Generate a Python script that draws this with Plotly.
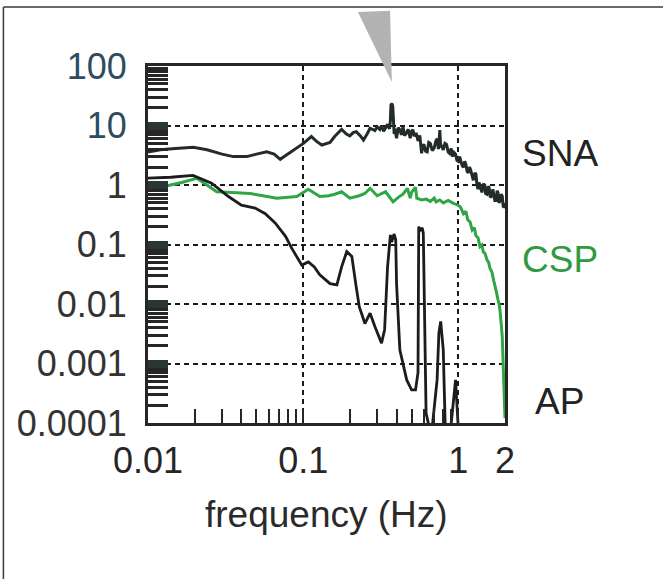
import math
import plotly.graph_objects as go

# ---------------- data ----------------
sna_f = [0.010, 0.012, 0.015, 0.0196, 0.024, 0.030, 0.0355, 0.0433, 0.050, 0.0583,
         0.065, 0.0712, 0.078, 0.0866, 0.1004, 0.113, 0.122, 0.132, 0.149, 0.16,
         0.177, 0.19, 0.20, 0.21, 0.22, 0.235, 0.245, 0.26, 0.27, 0.29,
         0.30, 0.312, 0.32, 0.33, 0.34, 0.35, 0.36, 0.365, 0.368, 0.373, 0.378, 0.382,
         0.386, 0.39, 0.395, 0.40, 0.41, 0.42, 0.43, 0.44, 0.45, 0.46, 0.475, 0.49,
         0.50, 0.51, 0.52, 0.535, 0.55, 0.565, 0.58, 0.59, 0.60, 0.615, 0.63, 0.645,
         0.66, 0.68, 0.70, 0.715, 0.73, 0.745, 0.76, 0.77, 0.78, 0.80, 0.82, 0.84,
         0.86, 0.88, 0.90, 0.92, 0.94, 0.96, 0.98, 1.00, 1.02, 1.04, 1.06, 1.08,
         1.10, 1.12, 1.14, 1.16, 1.18, 1.20, 1.23, 1.25, 1.28, 1.30, 1.32, 1.34,
         1.36, 1.38, 1.40, 1.42, 1.45, 1.48, 1.50, 1.53, 1.56, 1.58, 1.61, 1.64,
         1.67, 1.69, 1.72, 1.75, 1.78, 1.80, 1.83, 1.86, 1.89, 1.92, 1.95, 1.97, 2.0]
sna_v = [3.6, 3.9, 4.1, 4.3, 3.9, 3.3, 3.0, 3.0, 3.3, 3.6,
         3.3, 2.7, 3.2, 3.9, 5.0, 6.5, 5.4, 4.7, 5.2, 6.6,
         8.6, 7.2, 6.7, 7.6, 7.9, 6.6, 5.7, 7.4, 9.0, 8.2,
         9.5, 8.6, 10.0, 8.0, 9.4, 10.5, 8.8, 12.0, 22.0, 23.6, 21.0, 10.0,
         7.2, 8.8, 6.6, 6.1, 9.2, 8.4, 7.0, 9.5, 6.8, 7.2, 8.6, 6.1,
         8.0, 8.5, 6.6, 7.5, 5.5, 6.8, 3.4, 4.6, 4.8, 3.7, 3.6, 5.2,
         5.0, 3.8, 4.2, 5.4, 6.0, 4.0, 8.4, 4.3, 4.5, 3.9, 5.0, 4.8,
         3.6, 3.4, 4.1, 3.0, 3.5, 3.3, 2.6, 2.5, 3.0, 2.6, 2.1, 2.0,
         2.5, 2.2, 1.7, 1.6, 2.0, 1.8, 1.3, 1.2, 1.6, 1.5, 1.0, 0.85,
         1.1, 0.94, 0.8, 0.75, 1.05, 1.0, 0.72, 0.7, 0.95, 0.9, 0.62, 0.65,
         0.85, 0.72, 0.55, 0.55, 0.8, 0.75, 0.5, 0.56, 0.7, 0.65, 0.42, 0.43, 0.5]

csp_f = [0.010, 0.013, 0.0165, 0.0187, 0.0206, 0.024, 0.0277, 0.035, 0.0455, 0.055,
         0.0676, 0.08, 0.091, 0.108, 0.118, 0.128, 0.146, 0.16, 0.177, 0.20,
         0.23, 0.25, 0.27, 0.30, 0.34, 0.36, 0.38, 0.41, 0.44, 0.47,
         0.49, 0.50, 0.53, 0.54, 0.58, 0.62, 0.66, 0.70, 0.72, 0.76,
         0.80, 0.86, 0.93, 0.98, 1.03, 1.08, 1.12, 1.15, 1.19, 1.23, 1.27, 1.30,
         1.34, 1.38, 1.42, 1.45, 1.49, 1.53, 1.57, 1.60, 1.65, 1.69, 1.73, 1.76,
         1.80, 1.83, 1.86, 1.88, 1.90, 1.92, 1.94, 1.95, 1.97, 1.98, 2.0]
csp_v = [0.82, 0.95, 1.1, 1.21, 1.3, 1.0, 0.77, 0.75, 0.72, 0.66,
         0.60, 0.62, 0.64, 0.85, 0.72, 0.64, 0.66, 0.70, 0.77, 0.60,
         0.66, 0.72, 0.88, 0.66, 0.77, 0.62, 0.52, 0.62, 0.70, 0.88,
         0.60, 0.75, 0.92, 0.60, 0.56, 0.58, 0.53, 0.60, 0.52, 0.56,
         0.50, 0.55, 0.49, 0.47, 0.43, 0.33, 0.36, 0.26, 0.24, 0.175, 0.19, 0.14,
         0.13, 0.092, 0.098, 0.075, 0.07, 0.055, 0.05, 0.04, 0.034, 0.025, 0.02, 0.016,
         0.012, 0.0102, 0.0075, 0.006, 0.004, 0.0028, 0.0012, 0.0006, 0.0003, 0.0002, 0.00012]

ap_f = [0.010, 0.014, 0.0195, 0.0257, 0.033, 0.040, 0.049, 0.057, 0.066, 0.077,
        0.0845, 0.092, 0.098, 0.108, 0.118, 0.128, 0.149, 0.165, 0.177, 0.191,
        0.206, 0.22, 0.23, 0.25, 0.27, 0.29, 0.32, 0.335, 0.35, 0.365, 0.372,
        0.385, 0.395, 0.40, 0.42, 0.465, 0.50, 0.53, 0.55, 0.556, 0.565, 0.585, 0.595,
        0.62, 0.67, 0.73, 0.75, 0.77, 0.80, 0.83, 0.87, 0.91, 0.96, 1.0]
ap_v = [1.3, 1.35, 1.45, 1.07, 0.64, 0.46, 0.41, 0.33, 0.23, 0.137,
        0.086, 0.06, 0.045, 0.051, 0.042, 0.031, 0.022, 0.021, 0.042, 0.076,
        0.063, 0.019, 0.009, 0.0047, 0.007, 0.0042, 0.0022, 0.0037, 0.042, 0.145, 0.11,
        0.15, 0.12, 0.022, 0.0017, 0.00053, 0.00036, 0.00036, 0.0007, 0.2, 0.17, 0.19, 0.155,
        0.000145, 0.00006, 0.00053, 0.0033, 0.0051, 0.0017, 0.00004, 0.00004, 0.00013, 0.00053, 0.00008]

y_tickvals = [1e-4, 1e-3, 1e-2, 1e-1, 1, 10, 100]
y_ticktext = ["0.0001", "0.001", "0.01", "0.1", "1", "10", "100"]
x_tickvals = [0.01, 0.1, 1, 2]
x_ticktext = ["0.01", "0.1", "1", "2"]

series_labels = ["SNA", "CSP", "AP"]
marker_freq = 0.373  # frequency pointed to by the grey arrowhead

# ---------------- figure ----------------
FONT = "Liberation Sans, Arial, sans-serif"
INK = "#262626"
GREEN = "#2fa644"

fig = go.Figure()
fig.add_trace(go.Scatter(x=sna_f, y=sna_v, mode="lines",
                         line=dict(color="#232b2b", width=3), name="SNA"))
fig.add_trace(go.Scatter(x=csp_f, y=csp_v, mode="lines",
                         line=dict(color=GREEN, width=3), name="CSP"))
fig.add_trace(go.Scatter(x=ap_f, y=ap_v, mode="lines",
                         line=dict(color="#1c1c1c", width=2.8), name="AP"))

yt = []
for t in y_ticktext:
    if t in ("100", "10"):
        yt.append("<span style='color:#2e4c5e'>%s</span>" % t)
    else:
        yt.append(t)

minor_vals = []
for e in range(-4, 2):
    for d in range(2, 10):
        minor_vals.append(d * 10 ** e)
minor_x = []
for e in range(-2, 1):
    for d in range(2, 10):
        v = d * 10 ** e
        if v < 2:
            minor_x.append(v)

fig.update_xaxes(type="log", range=[-2, 0.30103],
                 tickmode="array", tickvals=x_tickvals, ticktext=x_ticktext,
                 ticks="inside", ticklen=14, tickwidth=2, tickcolor=INK,
                 minor=dict(tickmode="array", tickvals=minor_x, ticks="inside",
                            ticklen=14, tickwidth=2, tickcolor=INK, showgrid=False),
                 showline=True, linewidth=3, linecolor=INK, mirror=True,
                 showgrid=True, gridcolor="#1a1a1a", gridwidth=2, griddash="5px,4px",
                 tickfont=dict(family=FONT, size=36, color=INK),
                 ticklabelstandoff=4)
fig.update_yaxes(type="log", range=[-4, 2],
                 tickmode="array", tickvals=y_tickvals, ticktext=yt,
                 ticks="inside", ticklen=20, tickwidth=8, tickcolor="#2a3535",
                 minor=dict(tickmode="array", tickvals=minor_vals, ticks="inside",
                            ticklen=20, tickwidth=3, tickcolor=INK, showgrid=False),
                 showline=True, linewidth=3, linecolor=INK, mirror=True,
                 showgrid=True, gridcolor="#1a1a1a", gridwidth=2, griddash="5px,4px",
                 tickfont=dict(family=FONT, size=36, color="#333333"),
                 ticklabelstandoff=11)

label_pos = {"SNA": (1.042, 0.756, "#222222"),
             "CSP": (1.042, 0.457, "#2f9a3f"),
             "AP": (1.078, 0.059, "#222222")}
for lab in series_labels:
    px, py, col = label_pos[lab]
    fig.add_annotation(text=lab, xref="paper", yref="paper", x=px, y=py,
                       xanchor="left", yanchor="middle", showarrow=False,
                       font=dict(family=FONT, size=37, color=col))

fig.add_annotation(text="frequency (Hz)", xref="paper", yref="paper",
                   x=0.5, y=-0.255, xanchor="center", yanchor="middle",
                   showarrow=False, font=dict(family=FONT, size=37, color="#2a2a2a"))

xm = (math.log10(marker_freq) + 2) / 2.30103
fig.add_shape(type="path", xref="paper", yref="paper",
              path="M %.4f,1.151 L %.4f,1.155 L %.4f,0.955 Z" % (xm - 0.095, xm - 0.005, xm),
              fillcolor="#b3b3b3", line=dict(width=0), layer="above")

fig.add_shape(type="line", xref="paper", yref="paper", x0=-0.405, y0=1.165, x1=1.45, y1=1.165,
              line=dict(color="#3a3a3a", width=1.5))
fig.add_shape(type="line", xref="paper", yref="paper", x0=-0.405, y0=1.165, x1=-0.405, y1=-0.45,
              line=dict(color="#3a3a3a", width=1.5))

fig.update_layout(width=663, height=579,
                  margin=dict(l=148, r=158, t=66, b=156),
                  paper_bgcolor="white", plot_bgcolor="white",
                  showlegend=False)

fig.write_html("out.html", config={"displayModeBar": False},
               post_script="document.body.style.margin='0';document.body.style.padding='0';")
